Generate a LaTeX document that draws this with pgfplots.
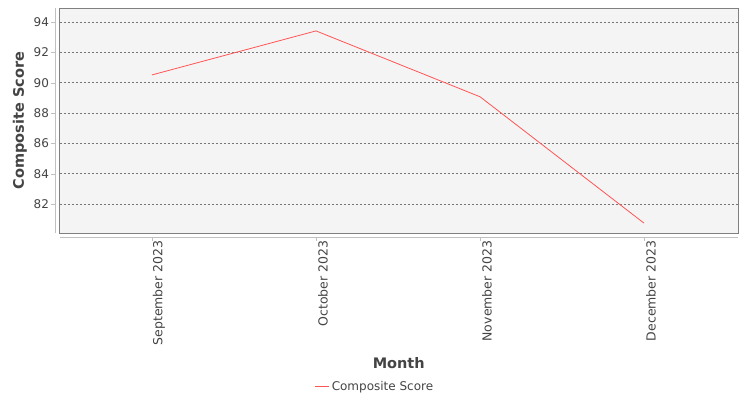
\documentclass[border=0pt]{standalone}
\usepackage{fontspec}
\setmainfont{DejaVu Sans}
\usepackage{pgfplots}
\pgfplotsset{compat=1.18}
\definecolor{plotbg}{HTML}{F4F4F4}
\definecolor{framegray}{HTML}{808080}
\definecolor{axisgray}{HTML}{C0C0C0}
\definecolor{textgray}{HTML}{444444}
\definecolor{gridgray}{HTML}{777777}
\definecolor{seriesred}{HTML}{FF5555}

\begin{document}
\begin{tikzpicture}[x=1pt,y=1pt]
\path (0,0) rectangle (750,400);
\begin{axis}[
    at={(59.5pt,167pt)}, anchor=south west,
    scale only axis,
    width=678.5pt, height=225pt,
    xmin=-0.564, xmax=3.573,
    ymin=80.09, ymax=94.92,
    xtick={0,1,2,3},
    xticklabels={September 2023,October 2023,November 2023,December 2023},
    ytick={82,84,86,88,90,92,94},
    xtick pos=bottom, ytick pos=left,
    /pgf/number format/assume math mode=true,
    axis background/.style={fill=plotbg},
    axis line style={framegray, line width=0.8pt},
    tick align=outside,
    major tick length=4pt,
    xtick style={axisgray, yshift=-4pt},
    ytick style={axisgray, xshift=-4pt},
    ymajorgrids=true,
    grid style={gridgray, line width=0.4pt, dash pattern=on 2pt off 2pt},
    xticklabel style={rotate=90, anchor=east, font=\fontsize{12.5}{14}\selectfont, text=textgray, yshift=-7pt},
    yticklabel style={font=\fontsize{12}{14}\selectfont, text=textgray, xshift=-3pt},
    xlabel={Month},
    ylabel={Composite Score},
    label style={font=\bfseries\fontsize{14.5}{16}\selectfont, text=textgray},
    xlabel style={at={(rel axis cs:0.5,0)}, anchor=center, yshift=-130pt},
    ylabel style={at={(rel axis cs:0,0.5)}, anchor=center, rotate=0, yshift=39.5pt},
    legend style={at={(0.465,-0.684)}, anchor=center, draw=none, fill=none,
        font=\fontsize{12}{14}\selectfont},
    legend image code/.code={\draw[seriesred, line width=1pt] (0pt,0pt) -- (14pt,0pt);},
    clip=false,
]
\addplot[seriesred, line width=0.8pt] coordinates {
    (0,90.51) (1,93.41) (2,89.07) (3,80.74)
};
\addlegendentry{\textcolor{textgray}{Composite Score}}
\draw[axisgray, line width=0.8pt] ([yshift=-4pt]rel axis cs:0,0) -- ([yshift=-4pt]rel axis cs:1,0);
\draw[axisgray, line width=0.8pt] ([xshift=-4pt]rel axis cs:0,0) -- ([xshift=-4pt]rel axis cs:0,1);
\end{axis}
\end{tikzpicture}
\end{document}
